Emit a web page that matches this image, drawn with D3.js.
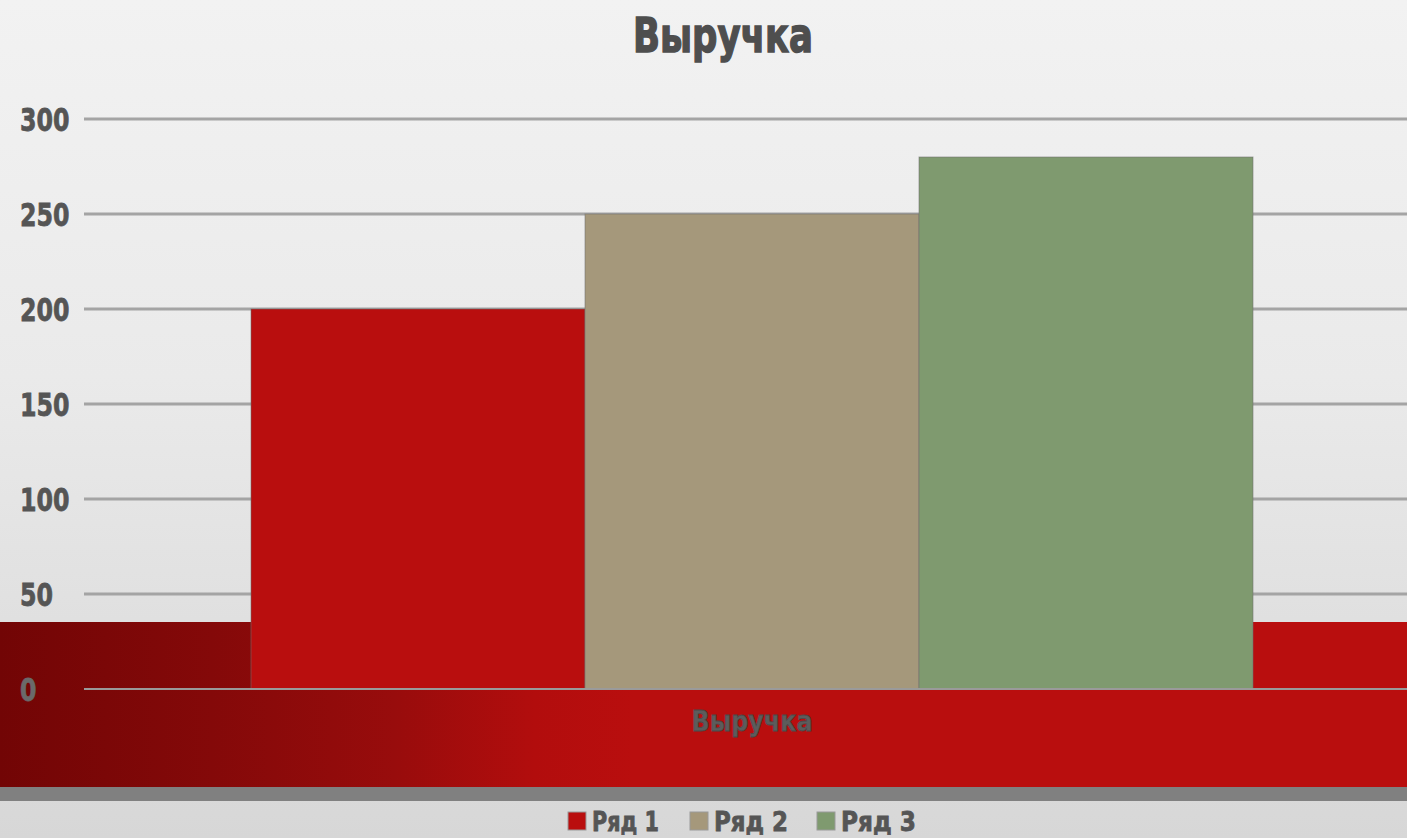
<!DOCTYPE html>
<html lang="ru">
<head>
<meta charset="UTF-8">
<title>Выручка</title>
<style>
  html, body { margin: 0; padding: 0; overflow: hidden; }
  svg { display: block; }
  .lbl { font-family: "DejaVu Sans", sans-serif; font-weight: bold; fill: #555; stroke: #555; stroke-width: 0.8px; }
</style>
</head>
<body>
<div id="chart"></div>
<script src="https://cdn.jsdelivr.net/npm/d3@7"></script>
<script>
const categories = ["Выручка"];
const seriesNames = ["Ряд 1", "Ряд 2", "Ряд 3"];
const seriesValues = [200, 250, 280];
const seriesColors = ["#b90e0e", "#a5987b", "#7f9a6f"];
const yTicks = [0, 50, 100, 150, 200, 250, 300];
const chartTitle = "Выручка";

const width = 1407, height = 838;
const plot = { left: 84, right: 1420, top: 119, bottom: 689 };

const svg = d3.select("#chart").append("svg")
  .attr("width", width).attr("height", height);

const defs = svg.append("defs");
const bg = defs.append("linearGradient").attr("id", "bg")
  .attr("x1", 0).attr("y1", 0).attr("x2", 0).attr("y2", 1);
bg.append("stop").attr("offset", "0%").attr("stop-color", "#f2f2f2");
bg.append("stop").attr("offset", "45%").attr("stop-color", "#eaeaea");
bg.append("stop").attr("offset", "100%").attr("stop-color", "#d7d7d7");

const band = defs.append("linearGradient").attr("id", "band")
  .attr("x1", 0).attr("y1", 0).attr("x2", 1).attr("y2", 0);
band.append("stop").attr("offset", "0%").attr("stop-color", "#720505");
band.append("stop").attr("offset", "15%").attr("stop-color", "#840909");
band.append("stop").attr("offset", "28%").attr("stop-color", "#980c0c");
band.append("stop").attr("offset", "38%").attr("stop-color", "#b20d0d");
band.append("stop").attr("offset", "45%").attr("stop-color", "#b90e0e");
band.append("stop").attr("offset", "100%").attr("stop-color", "#b90e0e");

svg.append("rect").attr("width", width).attr("height", height).attr("fill", "url(#bg)");

// red band behind the plot bottom, grey strip under it
svg.append("rect").attr("x", 0).attr("y", 622).attr("width", width).attr("height", 165)
  .attr("fill", "url(#band)");
svg.append("rect").attr("x", 0).attr("y", 787).attr("width", width).attr("height", 14)
  .attr("fill", "#808080");

const y = d3.scaleLinear().domain([0, 300]).range([plot.bottom, plot.top]);
const x0 = d3.scaleBand().domain(categories).range([plot.left, plot.right])
  .paddingInner(0.25).paddingOuter(0.125);
const x1 = d3.scaleBand().domain(seriesNames).range([0, x0.bandwidth()]);
const color = d3.scaleOrdinal().domain(seriesNames).range(seriesColors);

// squeeze text to the narrow bold face of the original
const fit = (sel, perChar) => sel
  .attr("textLength", function() { return this.textContent.length * perChar; })
  .attr("lengthAdjust", "spacingAndGlyphs");

// gridlines
svg.append("g")
  .selectAll("line")
  .data(yTicks.filter(d => d > 0))
  .join("line")
  .attr("x1", plot.left).attr("x2", width)
  .attr("y1", d => y(d)).attr("y2", d => y(d))
  .attr("stroke", "#a4a4a4").attr("stroke-width", 3);

// bars
const rows = seriesNames.map((s, i) => ({ cat: categories[0], name: s, value: seriesValues[i] }));
svg.append("g")
  .selectAll("rect")
  .data(rows)
  .join("rect")
  .attr("x", d => x0(d.cat) + x1(d.name))
  .attr("y", d => y(d.value))
  .attr("width", x1.bandwidth())
  .attr("height", d => y(0) - y(d.value))
  .attr("fill", d => color(d.name))
  .attr("stroke", "rgba(110,110,110,0.55)")
  .attr("stroke-width", 1);

// baseline
svg.append("line")
  .attr("x1", plot.left).attr("x2", width)
  .attr("y1", y(0)).attr("y2", y(0))
  .attr("stroke", "#9a9a9a").attr("stroke-width", 2);

// y tick labels
svg.append("g")
  .selectAll("text")
  .data(yTicks)
  .join("text")
  .attr("class", "lbl")
  .attr("x", 20)
  .attr("y", d => y(d) + 12)
  .style("font-size", "32px")
  .style("fill", d => d === 0 ? "#6a6a6a" : "#555")
  .style("stroke", d => d === 0 ? "#6a6a6a" : "#555")
  .text(d => d)
  .call(fit, 16.5);

// category label
svg.append("g")
  .selectAll("text")
  .data(categories)
  .join("text")
  .attr("class", "lbl")
  .attr("x", d => x0(d) + x0.bandwidth() / 2)
  .attr("y", 731)
  .attr("text-anchor", "middle")
  .style("font-size", "29px")
  .style("fill", "#5c5c5c")
  .style("stroke", "#4a4a4a")
  .text(d => d)
  .attr("textLength", 121)
  .attr("lengthAdjust", "spacingAndGlyphs");

// title
svg.append("text")
  .attr("class", "lbl")
  .attr("x", 723)
  .attr("y", 52)
  .attr("text-anchor", "middle")
  .style("font-size", "48px")
  .style("fill", "#4e4e4e")
  .style("stroke", "#4e4e4e")
  .style("stroke-width", "1.5px")
  .text(chartTitle)
  .attr("textLength", 180)
  .attr("lengthAdjust", "spacingAndGlyphs");

// legend
const legendX = [568, 690, 817];
const legendW = [67, 74, 75];
const legend = svg.append("g")
  .selectAll("g")
  .data(seriesNames)
  .join("g")
  .attr("transform", (d, i) => `translate(${legendX[i]},0)`);
legend.append("rect")
  .attr("x", 0).attr("y", 812).attr("width", 18).attr("height", 18)
  .attr("fill", d => color(d))
  .attr("stroke", "#9a9a9a").attr("stroke-width", 1);
legend.append("text")
  .attr("class", "lbl")
  .attr("x", 24).attr("y", 831)
  .style("font-size", "27px")
  .text(d => d)
  .attr("textLength", (d, i) => legendW[i])
  .attr("lengthAdjust", "spacingAndGlyphs");
</script>
</body>
</html>
